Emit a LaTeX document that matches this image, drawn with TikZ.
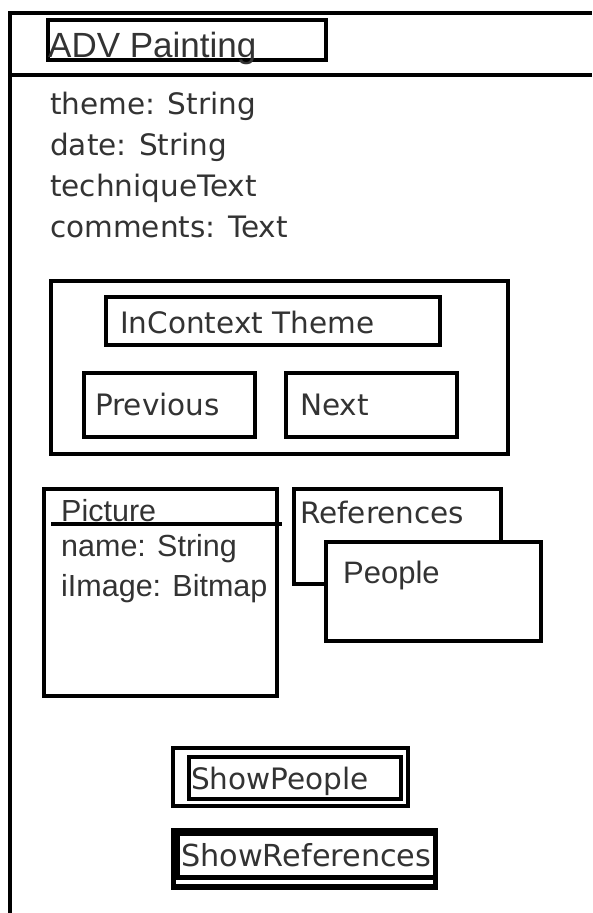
\documentclass[tikz,border=0pt]{standalone}
\usepackage{fontspec}
\setmainfont{DejaVu Sans}
\newfontfamily\arialfont{Liberation Sans}
\begin{document}
\begin{tikzpicture}[x=1pt,y=-1pt,
  box/.style={draw=black,line width=4.5pt},
  vera/.style={anchor=base west,inner sep=0pt,text=black!80,font=\fontsize{29.5}{30}\selectfont},
  arial/.style={anchor=base west,inner sep=0pt,text=black!80,font=\arialfont\fontsize{30.5}{31}\selectfont}]
\useasboundingbox (0,0) rectangle (592,913);
\fill[white] (0,0) rectangle (592,913);

% class frame and header separator
\draw[line width=4pt] (9.5,913) -- (9.5,12.5) -- (592,12.5);
\draw[line width=4.5pt] (8,75) -- (592,75);

% title
\draw[box] (48,20) rectangle (326,60);
\node[arial,font=\arialfont\fontsize{35}{36}\selectfont] (title) at (48,57) {ADV Painting};

% attributes
\node[vera] (aTheme) at (50,114) {theme: String};
\node[vera] (aDate) at (50,155) {date: String};
\node[vera] (aTech) at (50,196) {techniqueText};
\node[vera] (aComm) at (50,237) {comments: Text};

% context navigation panel
\draw[box] (51,281) rectangle (508,454);
\draw[box] (106,297) rectangle (440,345);
\node[vera] (ctx) at (120,333) {InContext Theme};
\draw[box] (84,373) rectangle (255,437);
\node[vera] (prev) at (95,415) {Previous};
\draw[box] (286,373) rectangle (457,437);
\node[vera] (next) at (300,415) {Next};

% picture class
\draw[box] (44,489) rectangle (277,696);
\draw[line width=4pt] (51,524) -- (282,524);
\node[arial] (pic) at (61,521) {Picture};
\node[arial] (pName) at (61,556) {name: String};
\node[arial] (pImg) at (61,596) {iImage: Bitmap};

% stacked references / people
\draw[box] (294,489) rectangle (501,584);
\node[vera] (refs) at (300,523) {References};
\draw[box,fill=white] (326,542) rectangle (541,641);
\node[arial,font=\arialfont\fontsize{31}{32}\selectfont] (people) at (343,583) {People};

% buttons
\draw[box] (173,748) rectangle (408,806);
\draw[line width=3.5pt] (189,757) rectangle (401,799);
\node[vera] (bPeople) at (191,789) {ShowPeople};

\fill[black] (171,828) rectangle (438,890);
\fill[white] (180,836) rectangle (433,875);
\fill[white] (176,880) rectangle (433,883.5);
\node[vera,font=\fontsize{30.3}{31}\selectfont] (bRefs) at (181,866) {ShowReferences};
\end{tikzpicture}
\end{document}
